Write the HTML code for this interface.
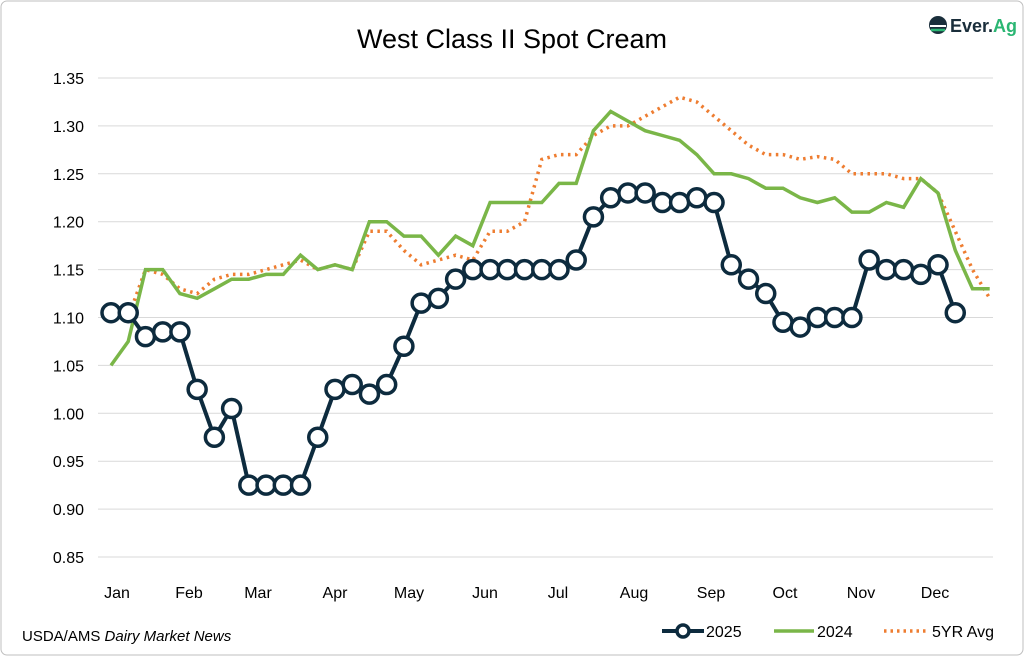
<!DOCTYPE html>
<html><head><meta charset="utf-8"><style>
html,body{margin:0;padding:0;background:#fff;}
svg{display:block;font-family:"Liberation Sans",sans-serif;}
</style></head><body>
<svg id="s" width="1024" height="656" viewBox="0 0 1024 656">
<rect x="1" y="1" width="1022" height="654" rx="6" fill="#fff" stroke="#bfbfbf" stroke-width="1"/>
<text x="512" y="48" text-anchor="middle" font-size="27" fill="#000">West Class II Spot Cream</text>
<g transform="translate(928,14)">
<circle cx="10" cy="11" r="9" fill="#1a2e3b"/>
<path d="M2 12 h16" stroke="#fff" stroke-width="2"/>
<path d="M3 16 h14" stroke="#2bb673" stroke-width="2.5"/>
<text x="22" y="18" font-size="18" font-weight="bold" fill="#1a2e3b">Ever.<tspan fill="#2bb673">Ag</tspan></text>
</g>
<g id="grid"></g>
<g id="data"></g>
<text x="22" y="641" font-size="15" fill="#000">USDA/AMS <tspan font-style="italic">Dairy Market News</tspan></text>
<line x1="662" y1="631" x2="704" y2="631" stroke="#0d2b3e" stroke-width="4"/>
<circle cx="683" cy="631" r="6" fill="#fff" stroke="#0d2b3e" stroke-width="3.5"/>
<text x="706" y="637" font-size="16">2025</text>
<line x1="774" y1="631" x2="814" y2="631" stroke="#7ab648" stroke-width="3.5"/>
<text x="817" y="637" font-size="16">2024</text>
<line x1="884" y1="631" x2="926" y2="631" stroke="#ee7d31" stroke-width="3.5" stroke-dasharray="2.5 4"/>
<text x="932" y="637" font-size="16">5YR Avg</text>
</svg>
<script>
var Y=function(v){return 78+(1.35-v)/0.05*47.9;};
var g='';
for(var i=0;i<=10;i++){var v=1.35-i*0.05,y=Y(v);
g+='<line x1="98" x2="993" y1="'+y+'" y2="'+y+'" stroke="#d9d9d9" stroke-width="1"/>';
g+='<text x="84" y="'+(y+6)+'" text-anchor="end" font-size="16">'+v.toFixed(2)+'</text>';}
var m=[["Jan",117],["Feb",189],["Mar",258],["Apr",335],["May",409],["Jun",485],["Jul",558],["Aug",634],["Sep",711],["Oct",785],["Nov",861],["Dec",935]];
m.forEach(function(a){g+='<text x="'+a[1]+'" y="598" text-anchor="middle" font-size="16">'+a[0]+'</text>';});
document.getElementById('grid').innerHTML=g;
var X=function(i){return 111+i*17.23;};
var a25=[1.105,1.105,1.08,1.085,1.085,1.025,0.975,1.005,0.925,0.925,0.925,0.925,0.975,1.025,1.03,1.02,1.03,1.07,1.115,1.12,1.14,1.15,1.15,1.15,1.15,1.15,1.15,1.16,1.205,1.225,1.23,1.23,1.22,1.22,1.225,1.22,1.155,1.14,1.125,1.095,1.09,1.1,1.1,1.1,1.16,1.15,1.15,1.145,1.155,1.105];
var a24=[1.05,1.075,1.15,1.15,1.125,1.12,1.13,1.14,1.14,1.145,1.145,1.165,1.15,1.155,1.15,1.2,1.2,1.185,1.185,1.165,1.185,1.175,1.22,1.22,1.22,1.22,1.24,1.24,1.295,1.315,1.305,1.295,1.29,1.285,1.27,1.25,1.25,1.245,1.235,1.235,1.225,1.22,1.225,1.21,1.21,1.22,1.215,1.245,1.23,1.17,1.13,1.13];
var a5=[1.1,1.1,1.15,1.145,1.13,1.125,1.14,1.145,1.145,1.15,1.155,1.16,1.15,1.155,1.15,1.19,1.19,1.17,1.155,1.16,1.165,1.16,1.19,1.19,1.2,1.265,1.27,1.27,1.29,1.3,1.3,1.31,1.32,1.33,1.325,1.31,1.295,1.28,1.27,1.27,1.265,1.268,1.265,1.25,1.25,1.25,1.245,1.245,1.23,1.19,1.15,1.12];
function pts(a){return a.map(function(v,i){return X(i).toFixed(1)+','+Y(v).toFixed(1);}).join(' ');}
var d='';
d+='<polyline points="'+pts(a5)+'" fill="none" stroke="#ee7d31" stroke-width="3.5" stroke-dasharray="2.5 4.5"/>';
d+='<polyline points="'+pts(a24)+'" fill="none" stroke="#7ab648" stroke-width="3.5"/>';
d+='<polyline points="'+pts(a25)+'" fill="none" stroke="#0d2b3e" stroke-width="4"/>';
a25.forEach(function(v,i){d+='<circle cx="'+X(i)+'" cy="'+Y(v)+'" r="9" fill="#fff" stroke="#0d2b3e" stroke-width="3.5"/>';});
document.getElementById('data').innerHTML=d;
</script>
</body></html>
